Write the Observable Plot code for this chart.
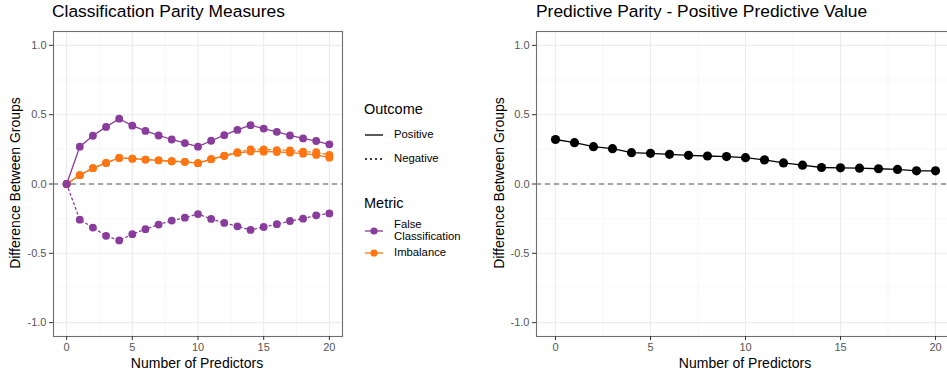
<!DOCTYPE html>
<html><head><meta charset="utf-8">
<script src="https://cdn.jsdelivr.net/npm/d3@7"></script>
<script src="https://cdn.jsdelivr.net/npm/@observablehq/plot@0.6"></script>
<style>
body{margin:0;background:#fff;font-family:"Liberation Sans",Arial,Helvetica,sans-serif;}
#root{position:relative;width:947px;height:374px;overflow:hidden;background:#fff;}
.abs{position:absolute;white-space:nowrap;color:#000;}
.abs svg{max-width:none !important;}
</style></head><body><div id="root"></div>
<script>
// ---- data ----
const predictors = [0,1,2,3,4,5,6,7,8,9,10,11,12,13,14,15,16,17,18,19,20];
const metrics = ["False Classification", "Imbalance"];
const outcomes = ["Positive", "Negative"];
const falseClassPositive = [0,0.269,0.348,0.412,0.471,0.421,0.383,0.350,0.321,0.295,0.269,0.312,0.352,0.390,0.424,0.400,0.376,0.350,0.329,0.310,0.286];
const falseClassNegative = [0,-0.257,-0.314,-0.374,-0.407,-0.362,-0.326,-0.293,-0.264,-0.243,-0.217,-0.252,-0.281,-0.305,-0.331,-0.310,-0.290,-0.267,-0.250,-0.226,-0.212];
const imbalancePositive = [0,0.064,0.114,0.152,0.188,0.183,0.176,0.171,0.164,0.160,0.150,0.179,0.202,0.224,0.234,0.233,0.231,0.226,0.219,0.210,0.190];
const imbalanceNegative = [0,0.064,0.114,0.152,0.188,0.183,0.176,0.171,0.164,0.160,0.150,0.179,0.204,0.230,0.249,0.249,0.245,0.243,0.233,0.229,0.210];
const ppvDifference = [0.321,0.298,0.269,0.255,0.226,0.221,0.214,0.207,0.202,0.198,0.190,0.174,0.152,0.136,0.119,0.117,0.114,0.110,0.105,0.095,0.095];
const xMajorTicks = [0,5,10,15,20];
const xMinorTicks = [2.5,7.5,12.5,17.5];
const yMajorTicks = [-1,-0.5,0,0.5,1];
const yMinorTicks = [-0.75,-0.25,0.25,0.75];
const metricColors = ["#8a3c9c", "#ff7512"];

// ---- tables ----
const seriesList = [
  {metric: metrics[1], outcome: outcomes[0], values: imbalancePositive},
  {metric: metrics[1], outcome: outcomes[1], values: imbalanceNegative},
  {metric: metrics[0], outcome: outcomes[0], values: falseClassPositive},
  {metric: metrics[0], outcome: outcomes[1], values: falseClassNegative}
];
const rows = seriesList.flatMap(s => predictors.map((p, i) => ({x: p, y: s.values[i], metric: s.metric, outcome: s.outcome})));
const ppvRows = predictors.map((p, i) => ({x: p, y: ppvDifference[i]}));

const FONT = '"Liberation Sans",Arial,Helvetica,sans-serif';
const gridMarks = () => [
  Plot.ruleX(xMinorTicks, {stroke: "#f2f2f2", strokeWidth: 0.6}),
  Plot.ruleY(yMinorTicks, {stroke: "#f2f2f2", strokeWidth: 0.6}),
  Plot.ruleX(xMajorTicks, {stroke: "#ebebeb", strokeWidth: 1.1}),
  Plot.ruleY(yMajorTicks, {stroke: "#ebebeb", strokeWidth: 1.1}),
  Plot.ruleY([0], {stroke: "#5a5a5a", strokeWidth: 1.1, strokeDasharray: "5,4"})
];
const axisMarks = () => [
  Plot.frame({stroke: "#6e6e6e", strokeWidth: 1.1}),
  Plot.axisX(xMajorTicks, {tickSize: 4, tickPadding: 3, fontSize: 11, fill: "#555", stroke: "#333", label: null, tickFormat: d => String(d)}),
  Plot.axisY(yMajorTicks, {tickSize: 4, tickPadding: 3, fontSize: 11, fill: "#555", stroke: "#333", label: null, tickFormat: d => d.toFixed(1)})
];

const root = d3.select("#root");

// ---- left plot ----
const left = Plot.plot({
  width: 350, height: 374,
  marginLeft: 53, marginTop: 31, marginBottom: 38, marginRight: 8,
  style: {fontFamily: FONT, background: "transparent"},
  x: {domain: [-1, 21], axis: null},
  y: {domain: [-1.1, 1.1], axis: null},
  color: {domain: metrics, range: metricColors},
  marks: [
    ...gridMarks(),
    Plot.line(rows.filter(d => d.outcome === "Positive"), {x: "x", y: "y", z: "metric", stroke: "metric", strokeWidth: 1.3}),
    Plot.line(rows.filter(d => d.outcome === "Negative"), {x: "x", y: "y", z: "metric", stroke: "metric", strokeWidth: 1.3, strokeDasharray: "2,3"}),
    Plot.dot(rows.filter(d => d.metric === metrics[1]), {x: "x", y: "y", fill: "metric", r: 3.9}),
    Plot.dot(rows.filter(d => d.metric === metrics[0]), {x: "x", y: "y", fill: "metric", r: 3.9}),
    ...axisMarks()
  ]
});
root.append("div").attr("class", "abs").style("left", "0px").style("top", "0px").style("width", "350px").node().appendChild(left);

// ---- right plot ----
const right = Plot.plot({
  width: 480, height: 374,
  marginLeft: 53, marginTop: 31, marginBottom: 38, marginRight: 9,
  style: {fontFamily: FONT, background: "transparent"},
  x: {domain: [-1, 21], axis: null},
  y: {domain: [-1.1, 1.1], axis: null},
  marks: [
    ...gridMarks(),
    Plot.line(ppvRows, {x: "x", y: "y", stroke: "#000", strokeWidth: 1.3}),
    Plot.dot(ppvRows, {x: "x", y: "y", fill: "#000", r: 4.6}),
    ...axisMarks()
  ]
});
root.append("div").attr("class", "abs").style("left", "483px").style("top", "0px").style("width", "480px").node().appendChild(right);

// ---- titles & axis labels ----
function label(text, x, y, size, extra) {
  const d = root.append("div").attr("class", "abs").text(text)
    .style("left", x + "px").style("top", y + "px").style("font-size", size + "px")
    .style("line-height", "1");
  if (extra) extra(d);
  return d;
}
label("Classification Parity Measures", 52, 3, 17.4);
label("Predictive Parity - Positive Predictive Value", 536, 3, 17.4);
label("Number of Predictors", 197, 356, 14, d => d.style("transform", "translateX(-50%)"));
label("Number of Predictors", 745, 356, 14, d => d.style("transform", "translateX(-50%)"));
label("Difference Between Groups", 15, 183, 14, d => d.style("transform", "translate(-50%,-50%) rotate(-90deg)"));
label("Difference Between Groups", 499, 183, 14, d => d.style("transform", "translate(-50%,-50%) rotate(-90deg)"));

// ---- legend ----
label("Outcome", 364, 102, 14.5);
label("Metric", 364, 196, 14.5);
const leg = root.append("svg").attr("class", "abs").style("left", "360px").style("top", "120px")
  .attr("width", 30).attr("height", 150);
leg.append("line").attr("x1", 5).attr("x2", 23).attr("y1", 15).attr("y2", 15).attr("stroke", "#000").attr("stroke-width", 1.3);
leg.append("line").attr("x1", 5).attr("x2", 23).attr("y1", 39).attr("y2", 39).attr("stroke", "#000").attr("stroke-width", 1.3).attr("stroke-dasharray", "2,3");
[[111, metricColors[0]], [133, metricColors[1]]].forEach(([y, c]) => {
  leg.append("line").attr("x1", 5).attr("x2", 23).attr("y1", y).attr("y2", y).attr("stroke", c).attr("stroke-width", 1.3);
  leg.append("circle").attr("cx", 14).attr("cy", y).attr("r", 3.6).attr("fill", c);
});
label("Positive", 394, 129, 11.3);
label("Negative", 394, 153, 11.3);
label("False", 394, 219, 11.3);
label("Classification", 394, 231, 11.3);
label("Imbalance", 394, 247, 11.3);
</script></body></html>
